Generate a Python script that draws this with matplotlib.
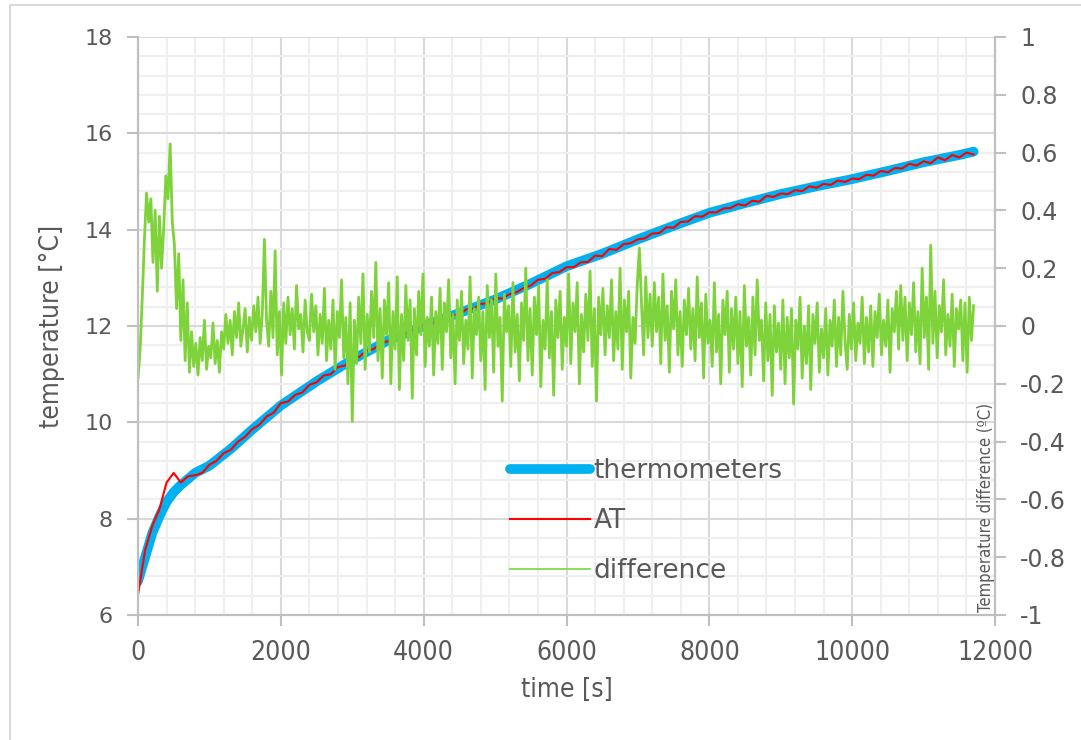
import numpy as np
import matplotlib
matplotlib.use('Agg')
import matplotlib.pyplot as plt
from matplotlib.ticker import MultipleLocator, FuncFormatter
from matplotlib.lines import Line2D

# thermometers (smooth reference curve)
therm_t = [0, 100, 200, 300, 400, 500, 600, 800, 1000, 1300, 1600, 2000, 2500,
           3000, 3500, 4000, 4500, 5000, 5500, 6000, 6500, 7000, 7500, 8000,
           8500, 9000, 9500, 10000, 10500, 11000, 11500, 11700]
therm_T = [6.7, 7.2, 7.7, 8.05, 8.35, 8.55, 8.7, 8.95, 9.1, 9.45, 9.85, 10.35,
           10.85, 11.3, 11.7, 12.0, 12.27, 12.55, 12.88, 13.24, 13.5, 13.8,
           14.08, 14.35, 14.55, 14.74, 14.9, 15.05, 15.22, 15.4, 15.55, 15.62]

# AT, one reading every 100 s
at_t = np.arange(0, 11701, 100)
at_T = [6.42, 7.35, 7.85, 8.2, 8.75, 8.95, 8.75, 8.88, 8.9, 8.95,
        9.12, 9.2, 9.36, 9.43, 9.6, 9.7, 9.86, 9.95, 10.12, 10.2,
        10.4, 10.43, 10.57, 10.62, 10.78, 10.83, 10.97, 11.0, 11.15, 11.18,
        11.33, 11.36, 11.49, 11.52, 11.66, 11.68, 11.79, 11.8, 11.91, 11.92,
        12.03, 12.03, 12.13, 12.12, 12.23, 12.24, 12.35, 12.36, 12.46, 12.47,
        12.58, 12.57, 12.66, 12.7, 12.79, 12.84, 12.96, 12.98, 13.1, 13.12,
        13.22, 13.22, 13.32, 13.33, 13.46, 13.45, 13.6, 13.58, 13.7, 13.72,
        13.8, 13.82, 13.92, 13.93, 14.05, 14.04, 14.16, 14.17, 14.28, 14.27,
        14.36, 14.36, 14.44, 14.45, 14.53, 14.5, 14.6, 14.58, 14.7, 14.68,
        14.75, 14.74, 14.82, 14.8, 14.9, 14.87, 14.95, 14.93, 15.02, 14.99,
        15.06, 15.05, 15.14, 15.12, 15.22, 15.19, 15.28, 15.27, 15.37, 15.33,
        15.42, 15.38, 15.5, 15.44, 15.55, 15.5, 15.6, 15.56]

# difference (AT - thermometers), one reading every 30 s
diff_t = np.arange(0, 11701, 30)
diff = [
    -0.18, -0.08, 0.10, 0.30, 0.46, 0.36, 0.44, 0.22, 0.40, 0.12, 0.38, 0.20, 0.34, 0.52, 0.44, 0.63, 0.36, 0.28, 0.06, 0.25,
    -0.05, 0.16, -0.12, 0.08, -0.16, -0.02, -0.14, -0.06, -0.17, -0.04, -0.12, 0.02, -0.15, -0.07, -0.11, 0.01, -0.13, -0.05, -0.16, -0.02,
    -0.08, 0.04, -0.06, 0.02, -0.10, 0.05, -0.04, 0.08, -0.07, -0.01, 0.06, -0.09, 0.03, -0.05, 0.07, -0.02, 0.10, -0.06, 0.04, 0.30,
    0.02, -0.07, 0.12, -0.04, 0.26, -0.10, 0.05, -0.17, 0.08, -0.06, 0.10, -0.03, 0.06, -0.08, 0.14, -0.01, 0.04, -0.09, 0.09, -0.02,
    -0.05, 0.11, -0.02, 0.07, -0.10, 0.04, -0.06, 0.13, -0.12, 0.02, -0.08, 0.09, -0.15, 0.05, -0.04, 0.16, -0.11, 0.03, -0.20, 0.08,
    -0.33, 0.02, -0.13, 0.10, -0.06, 0.18, -0.15, 0.04, -0.09, 0.12, -0.04, 0.22, -0.12, 0.06, -0.18, 0.09, -0.03, 0.15, -0.20, 0.05,
    -0.08, 0.17, -0.22, 0.04, -0.12, 0.14, -0.05, 0.09, -0.25, 0.06, -0.10, 0.12, -0.03, 0.18, -0.14, 0.03, -0.07, 0.10, -0.17, 0.05,
    -0.06, 0.13, -0.15, 0.08, -0.02, 0.16, -0.11, 0.04, -0.20, 0.09, -0.05, 0.12, -0.13, 0.02, -0.08, 0.17, -0.18, 0.06, -0.03, 0.10,
    -0.12, 0.05, -0.22, 0.14, -0.04, 0.09, -0.16, 0.18, -0.07, 0.03, -0.26, 0.11, -0.02, 0.07, -0.14, 0.15, -0.09, 0.04, -0.19, 0.08,
    -0.05, 0.20, -0.12, 0.06, -0.17, 0.10, -0.03, 0.14, -0.21, 0.02, -0.08, 0.16, -0.11, 0.05, -0.24, 0.09, -0.04, 0.12, -0.15, 0.03,
    -0.07, 0.18, -0.13, 0.08, -0.02, 0.15, -0.20, 0.04, -0.09, 0.11, -0.05, 0.19, -0.14, 0.06, -0.26, 0.10, -0.03, 0.13, -0.10, 0.07,
    -0.04, 0.16, -0.12, 0.05, -0.08, 0.20, -0.15, 0.09, -0.02, 0.12, -0.18, 0.03, -0.06, 0.14, 0.27, 0.08, -0.10, 0.17, -0.04, 0.11,
    -0.07, 0.15, -0.02, 0.10, -0.13, 0.18, -0.05, 0.07, -0.16, 0.12, -0.01, 0.16, -0.10, 0.05, -0.14, 0.09, -0.03, 0.13, -0.08, 0.06,
    -0.12, 0.17, -0.04, 0.08, -0.18, 0.11, -0.06, 0.02, -0.14, 0.15, -0.09, 0.04, -0.20, 0.09, -0.03, 0.12, -0.16, 0.06, -0.08, 0.10,
    -0.13, 0.05, -0.21, 0.14, -0.07, 0.03, -0.17, 0.10, -0.10, 0.16, -0.05, 0.02, -0.19, 0.08, -0.12, 0.04, -0.24, 0.07, -0.09, 0.01,
    -0.15, 0.09, -0.20, 0.03, -0.11, 0.06, -0.27, 0.02, -0.08, 0.10, -0.18, 0.00, -0.13, 0.07, -0.22, 0.04, -0.06, 0.08, -0.16, -0.01,
    -0.11, 0.06, -0.17, 0.02, -0.07, 0.09, -0.14, 0.03, -0.10, 0.12, -0.05, -0.15, 0.04, -0.08, 0.08, -0.12, 0.01, -0.06, 0.10, -0.13,
    0.03, -0.09, 0.07, -0.14, 0.05, -0.04, 0.11, -0.10, 0.02, -0.07, 0.09, -0.16, 0.06, -0.02, 0.12, -0.08, 0.14, -0.05, 0.10, -0.12,
    0.08, -0.03, 0.15, -0.09, 0.05, -0.13, 0.20, -0.04, 0.10, -0.15, 0.28, -0.06, 0.12, -0.11, 0.07, -0.02, 0.16, -0.10, 0.04, -0.07,
    0.11, -0.14, 0.06, -0.01, 0.09, -0.12, 0.08, -0.16, 0.10, -0.05, 0.07,
]

grey_txt = '#595959'
grey_axis = '#BFBFBF'

plt.rcParams['font.family'] = 'DejaVu Sans'

W, H = 1081, 740
fig = plt.figure(figsize=(W / 100, H / 100), dpi=100)
ax = fig.add_axes([138 / W, 1 - 615 / H, (995 - 138) / W, (615 - 37) / H])

l1, = ax.plot(therm_t, therm_T, color='#00B0F0', lw=7, solid_capstyle='round',
              label='thermometers')
l2, = ax.plot(at_t, at_T, color='#FF0000', lw=1.5, label='AT')

ax2 = ax.twinx()
l3, = ax2.plot(diff_t, diff, color='#7ED23A', lw=2.0, label='difference')

ax.set_xlim(0, 12000)
ax.set_ylim(6, 18)
ax2.set_ylim(-1, 1)

ax.xaxis.set_major_locator(MultipleLocator(2000))
ax.xaxis.set_minor_locator(MultipleLocator(400))
ax.yaxis.set_major_locator(MultipleLocator(2))
ax.yaxis.set_minor_locator(MultipleLocator(0.4))
ax2.yaxis.set_major_locator(MultipleLocator(0.2))
ax2.yaxis.set_major_formatter(FuncFormatter(lambda v, p: f'{round(v, 1):g}'))

ax.grid(which='minor', color='#EFEFEF', lw=1.5)
ax.grid(which='major', color='#D9D9D9', lw=1.5)
ax.set_axisbelow(True)

for a in (ax, ax2):
    a.tick_params(which='minor', length=0)
    a.tick_params(which='major', length=8, width=1.5, color=grey_axis,
                  labelcolor=grey_txt, pad=10)
    a.spines['top'].set_visible(False)
    for s in ('left', 'right', 'bottom'):
        a.spines[s].set_color(grey_axis)
        a.spines[s].set_linewidth(1.5)

ax.tick_params(axis='y', labelsize=16)
ax2.tick_params(axis='y', labelsize=17)
for lab in ax.get_xticklabels():
    lab.set_fontstretch('condensed')
    lab.set_fontsize(19)

ax.set_xlabel('time [s]', fontsize=19, color=grey_txt, fontstretch='condensed', labelpad=8)
ax.set_ylabel('temperature [°C]', fontsize=19, color=grey_txt, fontstretch='condensed',
              labelpad=14)

fig.text(986 / W, 1 - 612 / H, 'Temperature difference (ºC)', rotation=90,
         ha='center', va='bottom', fontsize=12, color=grey_txt, fontstretch='condensed')

leg = ax2.legend(handles=[l1, l2, l3], loc='upper left', frameon=False,
                 bbox_to_anchor=(486 / W, 1 - 434 / H), bbox_transform=fig.transFigure,
                 fontsize=19, handlelength=3.05, handletextpad=0.12, labelspacing=0.92,
                 labelcolor=grey_txt)
leg.get_lines()[2].set_linewidth(1.2)

# outer chart border (top and left edges)
fig.add_artist(Line2D([10 / W, 10 / W, 1.0], [0.0, 1 - 5 / H, 1 - 5 / H],
                      transform=fig.transFigure, color='#D9D9D9', lw=1.5))

fig.savefig('out.png', dpi=100)
